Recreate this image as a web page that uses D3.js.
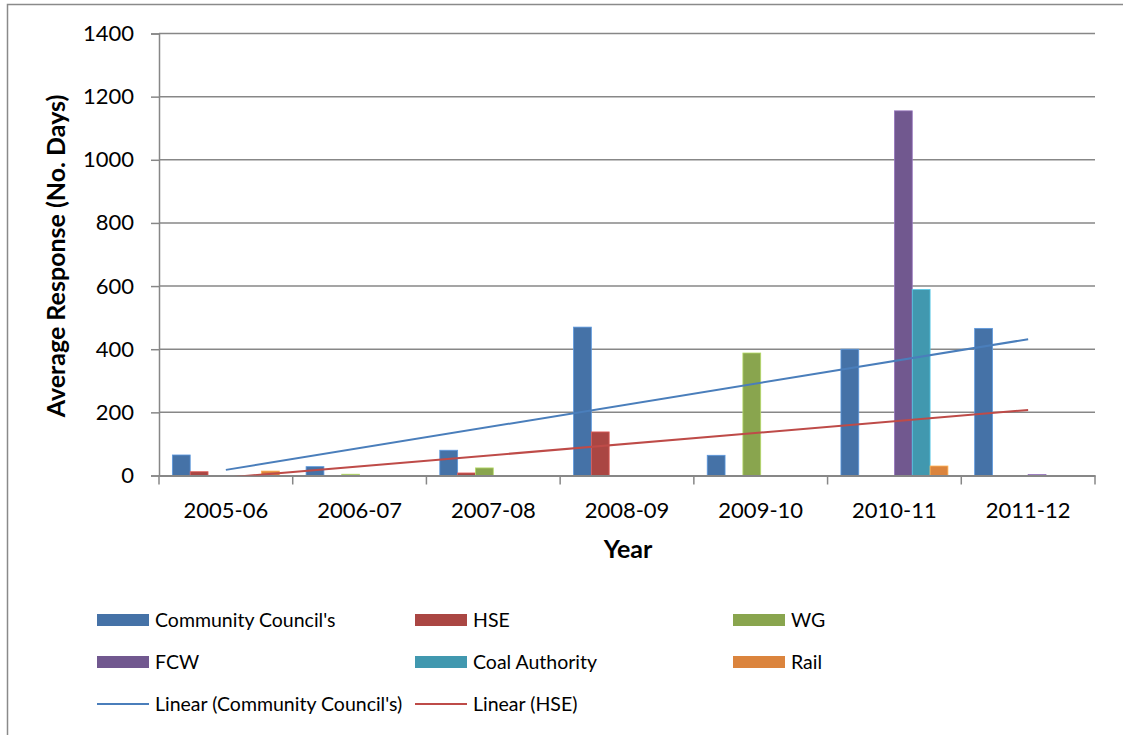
<!DOCTYPE html>
<html>
<head>
<meta charset="utf-8">
<script src="https://cdn.jsdelivr.net/npm/d3@7"></script>
<style>
  html, body { margin: 0; padding: 0; background: #fff; }
  svg { display: block; font-family: Lato, "Open Sans", sans-serif; }
</style>
</head>
<body>
<svg id="chart" width="1123" height="735"></svg>
<script>
// Financial years on the category axis
const years = ["2005-06", "2006-07", "2007-08", "2008-09", "2009-10", "2010-11", "2011-12"];

// Average response time (days) per organisation; null = no responses that year
const communityCouncils = [65, 28, 80, 470, 64, 400, 466];
const hse              = [12, null, 8, 138, null, null, null];
const wg               = [null, 4, 24, null, 388, null, null];
const fcw              = [null, null, null, null, null, 1155, 3];
const coalAuthority    = [null, null, null, null, null, 589, null];
const rail             = [14, null, null, null, null, 30, null];

const seriesNames  = ["Community Council's", "HSE", "WG", "FCW", "Coal Authority", "Rail"];
const seriesValues = [communityCouncils, hse, wg, fcw, coalAuthority, rail];
const seriesColors = ["#4572A7", "#AA4643", "#89A54E", "#71588F", "#4198AF", "#DB843D"];

const yTicks = [0, 200, 400, 600, 800, 1000, 1200, 1400];

// Trend lines fitted to these series
const trendNames  = ["Linear (Community Council's)", "Linear (HSE)"];
const trendSource = [0, 1];
const trendColors = ["#4A7EBB", "#BE4B48"];

const svg = d3.select("#chart");

// chart frame
svg.append("rect")
  .attr("x", 7.5).attr("y", 4.5)
  .attr("width", 1300).attr("height", 900)
  .attr("fill", "none").attr("stroke", "#8a8a8a").attr("stroke-width", 1.5);

const plot = { left: 159, right: 1095, top: 33.5, bottom: 475.5 };

const x = d3.scaleBand().domain(years).range([plot.left, plot.right]).paddingInner(0).paddingOuter(0);
const gapRatio = 1.5; // gap between groups relative to one bar
const barW = x.bandwidth() / (seriesNames.length + gapRatio);
const x1 = d3.scaleBand().domain(d3.range(seriesNames.length))
  .range([barW * gapRatio / 2, x.bandwidth() - barW * gapRatio / 2]).padding(0);
const y = d3.scaleLinear().domain([0, 1400]).range([plot.bottom, plot.top]);

// horizontal gridlines
svg.append("g").selectAll("line").data(yTicks.filter(d => d > 0)).join("line")
  .attr("x1", plot.left).attr("x2", plot.right)
  .attr("y1", d => y(d)).attr("y2", d => y(d))
  .attr("stroke", "#878787").attr("stroke-width", 1.5);

// y axis
const yAxis = svg.append("g").attr("transform", `translate(${plot.left},0)`)
  .call(d3.axisLeft(y).tickValues(yTicks).tickSize(8).tickPadding(17).tickFormat(d3.format("d")));
yAxis.select(".domain").attr("stroke", "#878787").attr("stroke-width", 1.5);
yAxis.selectAll(".tick line").attr("stroke", "#878787").attr("stroke-width", 1.5);
yAxis.selectAll(".tick text").attr("font-size", 22).attr("fill", "#000")
  .attr("font-family", "Lato, sans-serif");

// bars
const groups = svg.append("g").selectAll("g").data(years).join("g")
  .attr("transform", d => `translate(${x(d)},0)`);
groups.selectAll("rect")
  .data((yr, i) => seriesValues.map((vals, s) => ({ s, v: vals[i] })).filter(d => d.v != null))
  .join("rect")
  .attr("x", d => x1(d.s))
  .attr("width", x1.bandwidth())
  .attr("y", d => y(d.v))
  .attr("height", d => y(0) - y(d.v))
  .attr("fill", d => seriesColors[d.s])
  .attr("stroke", d => d3.color(seriesColors[d.s]).brighter(0.8))
  .attr("stroke-width", 0.8);

// x axis along zero
const xAxis = svg.append("g").attr("transform", `translate(0,${plot.bottom})`)
  .call(d3.axisBottom(x).tickSize(0).tickPadding(27));
xAxis.select(".domain").attr("stroke", "#878787").attr("stroke-width", 2);
xAxis.selectAll(".tick text").attr("font-size", 22).attr("fill", "#000")
  .attr("font-family", "Lato, sans-serif");
// category dividers
svg.append("g").selectAll("line").data(d3.range(years.length + 1)).join("line")
  .attr("x1", i => plot.left + i * x.bandwidth()).attr("x2", i => plot.left + i * x.bandwidth())
  .attr("y1", plot.bottom).attr("y2", plot.bottom + 9)
  .attr("stroke", "#878787").attr("stroke-width", 1.5);

// least-squares trend lines (blank years ignored), clipped to the plot area
svg.append("clipPath").attr("id", "plotClip").append("rect")
  .attr("x", plot.left).attr("y", plot.top)
  .attr("width", plot.right - plot.left).attr("height", plot.bottom - plot.top);

function linearFit(vals) {
  const pts = vals.map((v, i) => [i + 1, v]).filter(p => p[1] != null);
  const mx = d3.mean(pts, p => p[0]), my = d3.mean(pts, p => p[1]);
  const sxy = d3.sum(pts, p => (p[0] - mx) * (p[1] - my));
  const sxx = d3.sum(pts, p => (p[0] - mx) ** 2);
  const slope = sxy / sxx;
  return k => my + slope * (k - mx);
}
const cx = k => x(years[k - 1]) + x.bandwidth() / 2;
const trendG = svg.append("g").attr("clip-path", "url(#plotClip)");
trendSource.forEach((s, t) => {
  const f = linearFit(seriesValues[s]);
  const ends = [1, years.length];
  trendG.append("path")
    .attr("d", d3.line().x(k => cx(k)).y(k => y(f(k)))(ends))
    .attr("fill", "none").attr("stroke", trendColors[t]).attr("stroke-width", 2);
});

// axis titles
svg.append("text")
  .attr("transform", `translate(65,256) rotate(-90)`)
  .attr("text-anchor", "middle").attr("font-size", 25).attr("font-weight", "bold")
  .text("Average Response (No. Days)");
svg.append("text")
  .attr("x", 628).attr("y", 558)
  .attr("text-anchor", "middle").attr("font-size", 25).attr("font-weight", "bold")
  .text("Year");

// legend: three columns
const legendItems = seriesNames.map((n, i) => ({ name: n, color: seriesColors[i], type: "bar" }))
  .concat(trendNames.map((n, i) => ({ name: n, color: trendColors[i], type: "line" })));
const colX = [97, 415, 733];
const rowY = [620, 662, 704];
const leg = svg.append("g").selectAll("g").data(legendItems).join("g")
  .attr("transform", (d, i) => `translate(${colX[i % 3]},${rowY[Math.floor(i / 3)]})`);
leg.filter(d => d.type === "bar").append("rect")
  .attr("x", 0).attr("y", -6).attr("width", 52).attr("height", 12)
  .attr("fill", d => d.color);
leg.filter(d => d.type === "line").append("line")
  .attr("x1", 0).attr("x2", 52).attr("y1", 0).attr("y2", 0)
  .attr("stroke", d => d.color).attr("stroke-width", 2);
leg.append("text")
  .attr("x", 58).attr("y", 0).attr("dy", "0.35em")
  .attr("font-size", 19.5).attr("fill", "#000")
  .text(d => d.name);
</script>
</body>
</html>
